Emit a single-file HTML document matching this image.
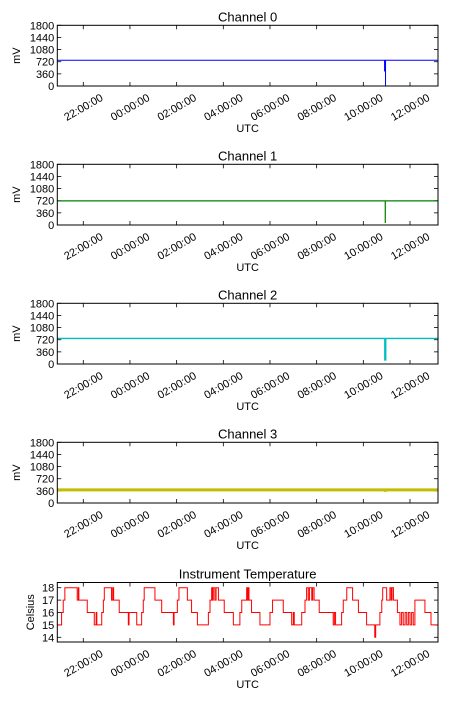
<!DOCTYPE html>
<html><head><meta charset="utf-8"><style>
html,body{margin:0;padding:0;background:#fff;}
svg{display:block;font-family:"Liberation Sans","DejaVu Sans",sans-serif;}
</style></head><body>
<svg id="chart" width="450" height="707" viewBox="0 0 450 707" xmlns="http://www.w3.org/2000/svg"></svg>
<script>
// Time values are hours relative to 22:00 UTC
const xTickLabels = ["22:00:00","00:00:00","02:00:00","04:00:00","06:00:00","08:00:00","10:00:00","12:00:00"];
const xTickHours = [0,2,4,6,8,10,12,14];
const mvTicks = [0,360,720,1080,1440,1800];
const tempTicks = [14,15,16,17,18];
const channelTitles = ["Channel 0","Channel 1","Channel 2","Channel 3"];
const ch0Times = [-1.11, 12.91, 12.911, 12.912, 12.95, 12.951, 12.952, 15.2];
const ch0Vals  = [765, 765, 430, 765, 765, 0, 765, 765];
const ch1Times = [-1.11, 12.94, 12.941, 12.942, 15.2];
const ch1Vals  = [715, 715, 60, 715, 715];
const ch2Times = [-1.11, 12.92, 12.921, 12.96, 12.961, 15.2];
const ch2Vals  = [758, 758, 120, 120, 758, 758];
const ch3Times = [-1.11, 12.94, 12.941, 12.942, 15.2];
const ch3Vals  = [390, 390, 330, 390, 390];
const tempTimes = [-1.11,-0.93,-0.86,-0.79,-0.26,-0.21,-0.19,-0.14,0.17,0.47,0.55,0.58,0.79,0.86,0.9,1.21,1.26,1.3,1.54,1.93,1.96,2.29,2.5,2.57,2.61,3.07,3.36,3.86,3.89,4.03,4.1,4.46,4.64,4.89,5.36,5.43,5.5,5.54,5.57,5.64,5.69,5.79,6.04,6.43,6.71,6.79,7.0,7.03,7.07,7.1,7.21,7.57,8.0,8.11,8.57,8.93,9.0,9.04,9.36,9.5,9.57,9.64,9.69,9.79,9.83,9.89,10.11,10.71,10.76,10.81,11.07,11.14,11.29,11.54,11.79,12.14,12.49,12.53,12.71,12.79,12.83,13.0,13.14,13.19,13.23,13.29,13.46,13.57,13.64,13.71,13.79,13.86,13.93,14.0,14.07,14.14,14.21,14.64,14.9,15.2];
const tempVals = [15,16,17,18,17,18,17,17,16,15,16,15,16,17,18,17,18,17,16,15,16,15,16,17,18,17,16,15,16,17,18,17,16,15,16,17,18,17,18,17,18,17,16,15,16,17,18,17,18,17,16,15,16,17,16,15,16,15,16,17,18,17,18,17,18,17,16,15,16,15,16,17,18,17,16,15,14,15,16,17,18,17,18,17,18,17,16,15,16,15,16,15,16,15,16,15,17,16,15,15];

const NS = "http://www.w3.org/2000/svg";
const svg = document.getElementById("chart");
const X0 = 57.3, X1 = 438, H0 = -1.114, H1 = 15.2;
function xScale(h){ return X0 + (h - H0) / (H1 - H0) * (X1 - X0); }
function mk(tag, attrs, parent){
  const e = document.createElementNS(NS, tag);
  for (const k in attrs) e.setAttribute(k, attrs[k]);
  (parent || svg).appendChild(e);
  return e;
}
function drawAxes(top, bot, yMin, yMax, yTicks, title, ylabel, idx, g){
  const ys = v => bot - (v - yMin) / (yMax - yMin) * (bot - top);
  const t = mk("text", {x: (X0+X1)/2, y: top-4, "text-anchor":"middle", "font-size":"13"}, g);
  t.textContent = title;
  
  
  yTicks.forEach(v => {
    const y = ys(v);
    mk("line", {x1:X0, x2:X0+4, y1:y, y2:y, stroke:"#000", "stroke-width":"0.8"}, g);
    mk("line", {x1:X1-4, x2:X1, y1:y, y2:y, stroke:"#000", "stroke-width":"0.8"}, g);
    const l = mk("text", {x: X0-3, y: y+4, "text-anchor":"end", "font-size":"11"}, g);
    l.textContent = v;
    
    
  });
  xTickHours.forEach((h, i) => {
    const x = xScale(h);
    mk("line", {x1:x, x2:x, y1:bot, y2:bot-4, stroke:"#000", "stroke-width":"0.8"}, g);
    mk("line", {x1:x, x2:x, y1:top, y2:top+4, stroke:"#000", "stroke-width":"0.8"}, g);
    const cy = bot + 21;
    const l = mk("text", {x: x, y: cy+4, "text-anchor":"middle", "font-size":"11", transform:`rotate(-30 ${x} ${cy})`}, g);
    l.textContent = xTickLabels[i];
    
    
  });
  const xl = mk("text", {x:(X0+X1)/2, y: bot+46, "text-anchor":"middle", "font-size":"11"}, g);
  xl.textContent = "UTC";
  
  
  const yx = ylabel === "mV" ? 20 : 34;
  const yl = mk("text", {x: yx, y:(top+bot)/2, "text-anchor":"middle", "font-size":"11", transform:`rotate(-90 ${yx} ${(top+bot)/2})`}, g);
  yl.textContent = ylabel;
  
  
  return ys;
}
function drawSeries(times, vals, ys, color, width, g, step){
  let d = "";
  times.forEach((t, i) => {
    const x = xScale(t).toFixed(2), y = ys(vals[i]).toFixed(2);
    if (i === 0) d += `M${x},${y}`;
    else if (step) d += `H${x}V${y}`;
    else d += `L${x},${y}`;
  });
  const p = mk("path", {d, fill:"none", stroke:color, "stroke-width":width}, g);
  
  
}
function frame(top, bot, g){
  const r = mk("rect", {x:X0, y:top, width:X1-X0, height:bot-top, fill:"none", stroke:"#000", "stroke-width":"1"}, g);
  
  
}
const chTimes = [ch0Times, ch1Times, ch2Times, ch3Times];
const chVals = [ch0Vals, ch1Vals, ch2Vals, ch3Vals];
const chColors = ["#0000ff", "#008000", "#00bfbf", "#bfbf00"];
const chWidths = [1, 1.2, 1.4, 3];
const chNames = ['channel-0-plot','channel-1-plot','channel-2-plot','channel-3-plot'];
for (let k = 0; k < 4; k++){
  const top = 25.3 + 139*k, bot = 86 + 139*k;
  const g = mk("g", {});
  
  
  const ys = drawAxes(top, bot, 0, 1800, mvTicks, channelTitles[k], "mV", k, g);
  drawSeries(chTimes[k], chVals[k], ys, chColors[k], chWidths[k], g, false);
  frame(top, bot, g);
}
{
  const top = 582.5, bot = 642;
  const g = mk("g", {});
  
  
  const ys = drawAxes(top, bot, 13.62, 18.42, tempTicks, "Instrument Temperature", "Celsius", 4, g);
  drawSeries(tempTimes, tempVals, ys, "#ff0000", 1, g, true);
  frame(top, bot, g);
}
</script>
</body></html>
